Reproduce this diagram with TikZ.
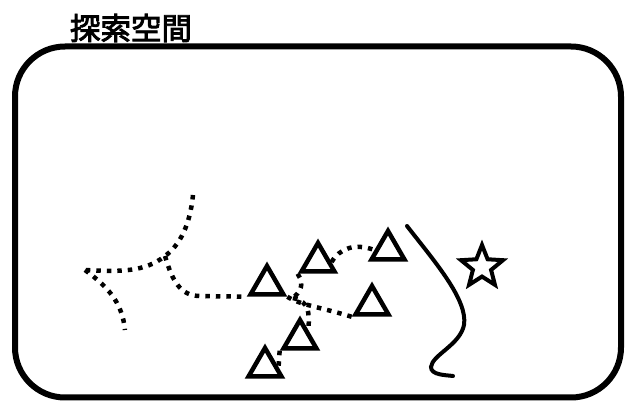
\documentclass[tikz,border=0pt]{standalone}
\usepackage{fontspec}
\newfontfamily\cjk{Noto Sans CJK JP}[FakeBold=3]
\usetikzlibrary{shapes.geometric}
\begin{document}
\begin{tikzpicture}[x=1pt,y=-1pt,
  tri/.style={draw, line width=4.5pt, regular polygon, regular polygon sides=3, minimum size=38pt, inner sep=0pt},
  trail/.style={line width=4.5pt, dash pattern=on 4.5pt off 6pt},
  wall/.style={line width=4pt, line cap=round},
  goalstar/.style={draw, line width=4pt, star, star points=5, star point ratio=2.3, minimum size=44pt, inner sep=0pt},
  spacebox/.style={draw, line width=6pt, rounded corners=50pt, minimum width=606pt, minimum height=351pt, inner sep=0pt}]
\useasboundingbox (0,0) rectangle (625,401);
\node[spacebox] (space) at (318,222) {};
\node[font=\cjk\fontsize{30.5}{32}\selectfont, inner sep=0pt] (title) at (131,28) {探索空間};
% triangles
\node[tri] (t1) at (267,285) {};
\node[tri] (t2) at (318,262) {};
\node[tri] (t3) at (388,250) {};
\node[tri] (t4) at (372,305) {};
\node[tri] (t5) at (300,339) {};
\node[tri] (t6) at (265,367) {};
\node[goalstar] (goal) at (482,267) {};
% coordinates
\coordinate (a0) at (193,195);
\coordinate (j1) at (165,256);
\coordinate (j0) at (85,270);
\coordinate (b1) at (125,330);
\coordinate (j2) at (293,298);
% dotted trails
\draw[trail] (a0) .. controls (190,225) and (180,245) .. (j1) .. controls (145,272) and (120,272) .. (j0);
\draw[trail] (j0) .. controls (105,285) and (122,300) .. (b1);
\draw[trail] (j1) .. controls (172,280) and (180,296) .. (200,296) -- (t1.corner 2);
\draw[trail] (t1.corner 3) .. controls (300,305) and (320,307) .. (t4.corner 2);
\draw[trail] (t2.corner 2) .. controls (305,285) and (300,292) .. (j2);
\draw[trail] (j2) .. controls (310,302) and (309,312) .. (t5.north east);
\draw[trail] (t5.corner 2) -- (t6.east);
\draw[trail] (t2.east) .. controls (340,248) and (355,243) .. (t3.west);
% wall
\coordinate (w0) at (407,226);
\coordinate (w1) at (453,376);
\draw[wall] (w0) .. controls (435,262) and (468,300) .. (464,325) .. controls (460,345) and (432,355) .. (431,367) .. controls (431,375) and (445,375) .. (w1);
\end{tikzpicture}
\end{document}
